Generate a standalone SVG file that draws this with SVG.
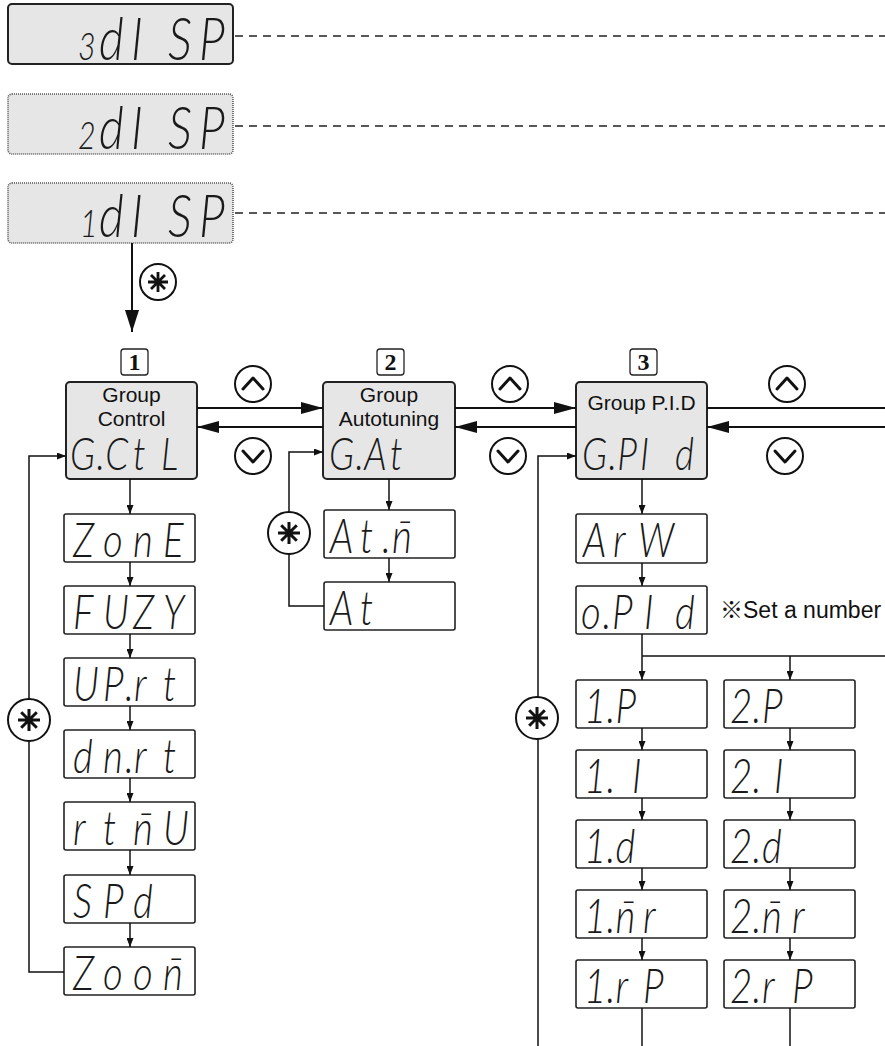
<svg xmlns="http://www.w3.org/2000/svg" width="885" height="1046" viewBox="0 0 885 1046">
<defs>
<style>
.lcd{fill:#e6e6e6;stroke:#222;stroke-width:2}
.lcdd{fill:#e6e6e6;stroke:#555;stroke-width:1.6;stroke-dasharray:1 1}
.box{fill:#fff;stroke:#222;stroke-width:1.6}
.seg{font-family:Lato,Roboto,"Noto Sans",sans-serif;font-weight:300;font-style:italic;fill:#1a1a1a}
.s48{font-size:48px}
.s46{font-size:46px}
.s60{font-size:60px}
.sub{font-size:38px}
.lbl{font-family:"Liberation Sans",Arial,sans-serif;font-size:21px;fill:#111;text-anchor:middle}
.note{font-family:"Liberation Sans",Arial,"Noto Sans CJK JP",sans-serif;font-size:23px;fill:#111}
.num{font-family:"Liberation Serif","Times New Roman",serif;font-weight:bold;font-size:24px;fill:#111;text-anchor:middle}
.nbox{fill:#fff;stroke:#222;stroke-width:1.3}
.ln{fill:none;stroke:#111;stroke-width:1.5}
.lnb{fill:none;stroke:#111;stroke-width:2}
.dash{fill:none;stroke:#222;stroke-width:1.3;stroke-dasharray:8 6}
.btn{fill:#fff;stroke:#111;stroke-width:2}
.ico{fill:none;stroke:#111;stroke-width:3;stroke-linecap:round;stroke-linejoin:round}
</style>
<marker id="ah" viewBox="0 0 22 12" refX="22" refY="6" markerWidth="22" markerHeight="12" markerUnits="userSpaceOnUse" orient="auto"><path d="M0,0L22,6L0,12z" fill="#111"/></marker>
<marker id="av" viewBox="0 0 22 14" refX="22" refY="7" markerWidth="22" markerHeight="14" markerUnits="userSpaceOnUse" orient="auto"><path d="M0,0L22,7L0,14z" fill="#111"/></marker>
<marker id="as" viewBox="0 0 9 7" refX="9" refY="3.5" markerWidth="9" markerHeight="7" markerUnits="userSpaceOnUse" orient="auto"><path d="M0,0L9,3.5L0,7z" fill="#111"/></marker>
<path id="ast" d="M0,-11V11M-11,0H11M-7.8,-7.8L7.8,7.8M-7.8,7.8L7.8,-7.8" style="fill:none;stroke:#111;stroke-width:3"/>
<path id="ast2" d="M0,-10V10M-10,0H10M-7,-7L7,7M-7,7L7,-7" style="fill:none;stroke:#111;stroke-width:2.8"/>
</defs>

<!-- top displays -->
<g id="disp3">
<rect class="lcd" x="8" y="4" width="225" height="60" rx="4"/>
<text class="seg s60" transform="translate(8 0) scale(0.8 1)" y="60"><tspan class="sub" x="87.5">3</tspan><tspan x="113.75">d</tspan><tspan x="153.75">I</tspan><tspan x="200">S</tspan><tspan x="238.75">P</tspan></text>
</g>
<g id="disp2">
<rect class="lcdd" x="8" y="94" width="225" height="60" rx="4"/>
<text class="seg s60" transform="translate(8 0) scale(0.8 1)" y="149"><tspan class="sub" x="87.5">2</tspan><tspan x="113.75">d</tspan><tspan x="153.75">I</tspan><tspan x="200">S</tspan><tspan x="238.75">P</tspan></text>
</g>
<g id="disp1">
<rect class="lcdd" x="8" y="183" width="225" height="60" rx="4"/>
<text class="seg s60" transform="translate(8 0) scale(0.8 1)" y="237"><tspan class="sub" x="90">1</tspan><tspan x="113.75">d</tspan><tspan x="153.75">I</tspan><tspan x="200">S</tspan><tspan x="238.75">P</tspan></text>
</g>

<!-- group headers -->
<g id="group1">
<rect class="nbox" x="121" y="349" width="27" height="26" rx="3"/>
<text class="num" x="134.5" y="370">1</text>
<rect class="lcd" x="66" y="382" width="131" height="97" rx="4"/>
<text class="lbl" x="131.5" y="402">Group</text>
<text class="lbl" x="131.5" y="426">Control</text>
<text class="seg s46" transform="translate(66 0) scale(0.8 1)" y="470"><tspan x="5">G</tspan><tspan x="38.2">.</tspan><tspan x="49">C</tspan><tspan x="83.75">t</tspan><tspan x="118.75">L</tspan></text>
</g>
<g id="group2">
<rect class="nbox" x="377" y="349" width="27" height="26" rx="3"/>
<text class="num" x="390.5" y="370">2</text>
<rect class="lcd" x="323" y="382" width="132" height="97" rx="4"/>
<text class="lbl" x="389" y="402">Group</text>
<text class="lbl" x="389" y="426">Autotuning</text>
<text class="seg s46" transform="translate(323 0) scale(0.8 1)" y="470"><tspan x="7.5">G</tspan><tspan x="40.6">.</tspan><tspan x="51.5">A</tspan><tspan x="83.75">t</tspan></text>
</g>
<g id="group3">
<rect class="nbox" x="630" y="349" width="27" height="26" rx="3"/>
<text class="num" x="643.5" y="370">3</text>
<rect class="lcd" x="576" y="382" width="131" height="97" rx="4"/>
<text class="lbl" x="641.5" y="410">Group P.I.D</text>
<text class="seg s46" transform="translate(576 0) scale(0.8 1)" y="470"><tspan x="7.5">G</tspan><tspan x="40.6">.</tspan><tspan x="51.5">P</tspan><tspan x="80">I</tspan><tspan x="123.75">d</tspan></text>
</g>

<!-- column 1 -->
<g id="zone"><rect class="box" x="64" y="514" width="131" height="48" rx="2"/>
<text class="seg s48" transform="translate(64 0) scale(0.8 1)" y="557"><tspan x="11.25">Z</tspan><tspan x="48.75">o</tspan><tspan x="86.25">n</tspan><tspan x="123.75">E</tspan></text></g>
<g id="fuzy"><rect class="box" x="64" y="586" width="131" height="48" rx="2"/>
<text class="seg s48" transform="translate(64 0) scale(0.8 1)" y="629"><tspan x="11.25">F</tspan><tspan x="48.75">U</tspan><tspan x="86.25">Z</tspan><tspan x="123.75">Y</tspan></text></g>
<g id="uprt"><rect class="box" x="64" y="658" width="131" height="48" rx="2"/>
<text class="seg s48" transform="translate(64 0) scale(0.8 1)" y="701"><tspan x="11.25">U</tspan><tspan x="48.75">P</tspan><tspan x="76.25">.</tspan><tspan x="87.5">r</tspan><tspan x="123.75">t</tspan></text></g>
<g id="dnrt"><rect class="box" x="64" y="730" width="131" height="48" rx="2"/>
<text class="seg s48" transform="translate(64 0) scale(0.8 1)" y="773"><tspan x="11.25">d</tspan><tspan x="48.75">n</tspan><tspan x="76.25">.</tspan><tspan x="87.5">r</tspan><tspan x="123.75">t</tspan></text></g>
<g id="rtmu"><rect class="box" x="64" y="802" width="131" height="48" rx="2"/>
<text class="seg s48" transform="translate(64 0) scale(0.8 1)" y="845"><tspan x="11.25">r</tspan><tspan x="48.75">t</tspan><tspan x="86.25">n&#x304;</tspan><tspan x="123.75">U</tspan></text></g>
<g id="spd"><rect class="box" x="64" y="875" width="131" height="48" rx="2"/>
<text class="seg s48" transform="translate(64 0) scale(0.8 1)" y="918"><tspan x="11.25">S</tspan><tspan x="48.75">P</tspan><tspan x="86.25">d</tspan></text></g>
<g id="zoom"><rect class="box" x="64" y="947" width="131" height="48" rx="2"/>
<text class="seg s48" transform="translate(64 0) scale(0.8 1)" y="990"><tspan x="11.25">Z</tspan><tspan x="48.75">o</tspan><tspan x="86.25">o</tspan><tspan x="123.75">n&#x304;</tspan></text></g>

<!-- column 2 -->
<g id="atm"><rect class="box" x="324" y="510" width="131" height="48" rx="2"/>
<text class="seg s48" transform="translate(324 0) scale(0.8 1)" y="553"><tspan x="7.5">A</tspan><tspan x="45">t</tspan><tspan x="72.5">.</tspan><tspan x="85">n&#x304;</tspan></text></g>
<g id="at"><rect class="box" x="324" y="582" width="131" height="48" rx="2"/>
<text class="seg s48" transform="translate(324 0) scale(0.8 1)" y="625"><tspan x="7.5">A</tspan><tspan x="45">t</tspan></text></g>

<!-- column 3 -->
<g id="arw"><rect class="box" x="576" y="514" width="131" height="49" rx="2"/>
<text class="seg s48" transform="translate(576 0) scale(0.8 1)" y="557"><tspan x="8.75">A</tspan><tspan x="46.25">r</tspan><tspan x="77.5">W</tspan></text></g>
<g id="opid"><rect class="box" x="576" y="586" width="131" height="48" rx="2"/>
<text class="seg s48" transform="translate(576 0) scale(0.8 1)" y="629"><tspan x="6.25">o</tspan><tspan x="33.1">.</tspan><tspan x="45">P</tspan><tspan x="85">I</tspan><tspan x="123.75">d</tspan></text></g>
<g id="p1"><rect class="box" x="576" y="680" width="131" height="48" rx="2"/>
<text class="seg s48" transform="translate(576 0) scale(0.8 1)" y="723"><tspan x="10">1</tspan><tspan x="38.1">.</tspan><tspan x="49.4">P</tspan></text></g>
<g id="i1"><rect class="box" x="576" y="750" width="131" height="48" rx="2"/>
<text class="seg s48" transform="translate(576 0) scale(0.8 1)" y="793"><tspan x="10">1</tspan><tspan x="38.1">.</tspan><tspan x="70">I</tspan></text></g>
<g id="d1"><rect class="box" x="576" y="820" width="131" height="48" rx="2"/>
<text class="seg s48" transform="translate(576 0) scale(0.8 1)" y="863"><tspan x="10">1</tspan><tspan x="38.1">.</tspan><tspan x="49.4">d</tspan></text></g>
<g id="mr1"><rect class="box" x="576" y="890" width="131" height="48" rx="2"/>
<text class="seg s48" transform="translate(576 0) scale(0.8 1)" y="933"><tspan x="10">1</tspan><tspan x="38.1">.</tspan><tspan x="49.4">n&#x304;</tspan><tspan x="83.75">r</tspan></text></g>
<g id="rp1"><rect class="box" x="576" y="960" width="131" height="48" rx="2"/>
<text class="seg s48" transform="translate(576 0) scale(0.8 1)" y="1003"><tspan x="10">1</tspan><tspan x="38.1">.</tspan><tspan x="49.4">r</tspan><tspan x="83.75">P</tspan></text></g>

<g id="p2"><rect class="box" x="724" y="680" width="131" height="48" rx="2"/>
<text class="seg s48" transform="translate(724 0) scale(0.8 1)" y="723"><tspan x="7.5">2</tspan><tspan x="35.6">.</tspan><tspan x="47.5">P</tspan></text></g>
<g id="i2"><rect class="box" x="724" y="750" width="131" height="48" rx="2"/>
<text class="seg s48" transform="translate(724 0) scale(0.8 1)" y="793"><tspan x="7.5">2</tspan><tspan x="35.6">.</tspan><tspan x="62.5">I</tspan></text></g>
<g id="d2"><rect class="box" x="724" y="820" width="131" height="48" rx="2"/>
<text class="seg s48" transform="translate(724 0) scale(0.8 1)" y="863"><tspan x="7.5">2</tspan><tspan x="35.6">.</tspan><tspan x="47.5">d</tspan></text></g>
<g id="mr2"><rect class="box" x="724" y="890" width="131" height="48" rx="2"/>
<text class="seg s48" transform="translate(724 0) scale(0.8 1)" y="933"><tspan x="7.5">2</tspan><tspan x="35.6">.</tspan><tspan x="47.5">n&#x304;</tspan><tspan x="85">r</tspan></text></g>
<g id="rp2"><rect class="box" x="724" y="960" width="131" height="48" rx="2"/>
<text class="seg s48" transform="translate(724 0) scale(0.8 1)" y="1003"><tspan x="7.5">2</tspan><tspan x="35.6">.</tspan><tspan x="47.5">r</tspan><tspan x="85">P</tspan></text></g>

<g id="note"><text class="note" x="720" y="618">※Set a number</text></g>

<!-- connectors -->
<g id="connectors">
<path class="dash" d="M235,36H885M235,126H885M235,213H885"/>
<path class="lnb" d="M132,243V332" marker-end="url(#av)"/>
<path class="lnb" d="M197,408H323" marker-end="url(#ah)"/>
<path class="lnb" d="M323,427H197" marker-end="url(#ah)"/>
<path class="lnb" d="M455,408H576" marker-end="url(#ah)"/>
<path class="lnb" d="M576,427H455" marker-end="url(#ah)"/>
<path class="lnb" d="M707,408H885"/>
<path class="lnb" d="M885,427H707" marker-end="url(#ah)"/>
<path class="ln" d="M130,479V514" marker-end="url(#as)"/>
<path class="ln" d="M130,562V586" marker-end="url(#as)"/>
<path class="ln" d="M130,634V658" marker-end="url(#as)"/>
<path class="ln" d="M130,706V730" marker-end="url(#as)"/>
<path class="ln" d="M130,778V802" marker-end="url(#as)"/>
<path class="ln" d="M130,850V875" marker-end="url(#as)"/>
<path class="ln" d="M130,923V947" marker-end="url(#as)"/>
<path class="ln" d="M64,972H29V456H66" marker-end="url(#as)"/>
<path class="ln" d="M389,479V510" marker-end="url(#as)"/>
<path class="ln" d="M389,558V582" marker-end="url(#as)"/>
<path class="ln" d="M324,606H289V452H323" marker-end="url(#as)"/>
<path class="ln" d="M642,479V514" marker-end="url(#as)"/>
<path class="ln" d="M642,563V586" marker-end="url(#as)"/>
<path class="ln" d="M642,634V680" marker-end="url(#as)"/>
<path class="ln" d="M642,656H885"/>
<path class="ln" d="M790,656V680" marker-end="url(#as)"/>
<path class="ln" d="M642,728V750" marker-end="url(#as)"/>
<path class="ln" d="M642,798V820" marker-end="url(#as)"/>
<path class="ln" d="M642,868V890" marker-end="url(#as)"/>
<path class="ln" d="M642,938V960" marker-end="url(#as)"/>
<path class="ln" d="M642,1008V1046"/>
<path class="ln" d="M790,728V750" marker-end="url(#as)"/>
<path class="ln" d="M790,798V820" marker-end="url(#as)"/>
<path class="ln" d="M790,868V890" marker-end="url(#as)"/>
<path class="ln" d="M790,938V960" marker-end="url(#as)"/>
<path class="ln" d="M790,1008V1046"/>
<path class="ln" d="M538,1046V456H576" marker-end="url(#as)"/>
</g>

<!-- buttons -->
<g id="btn-set-top"><circle class="btn" cx="158" cy="282" r="18"/><use href="#ast2" x="158" y="282"/></g>
<g id="btn-set-1"><circle class="btn" cx="29" cy="720" r="21"/><use href="#ast" x="29" y="720"/></g>
<g id="btn-set-2"><circle class="btn" cx="289" cy="533" r="21"/><use href="#ast" x="289" y="533"/></g>
<g id="btn-set-3"><circle class="btn" cx="537" cy="718" r="21"/><use href="#ast" x="537" y="718"/></g>
<g id="btn-up-1"><circle class="btn" cx="253" cy="384" r="18"/><path class="ico" d="M243,389L253,378L263,389"/></g>
<g id="btn-dn-1"><circle class="btn" cx="253" cy="456" r="18"/><path class="ico" d="M243,451L253,462L263,451"/></g>
<g id="btn-up-2"><circle class="btn" cx="510" cy="384" r="18"/><path class="ico" d="M500,389L510,378L520,389"/></g>
<g id="btn-dn-2"><circle class="btn" cx="508" cy="456" r="18"/><path class="ico" d="M498,451L508,462L518,451"/></g>
<g id="btn-up-3"><circle class="btn" cx="787" cy="384" r="18"/><path class="ico" d="M777,389L787,378L797,389"/></g>
<g id="btn-dn-3"><circle class="btn" cx="785" cy="456" r="18"/><path class="ico" d="M775,451L785,462L795,451"/></g>
</svg>
